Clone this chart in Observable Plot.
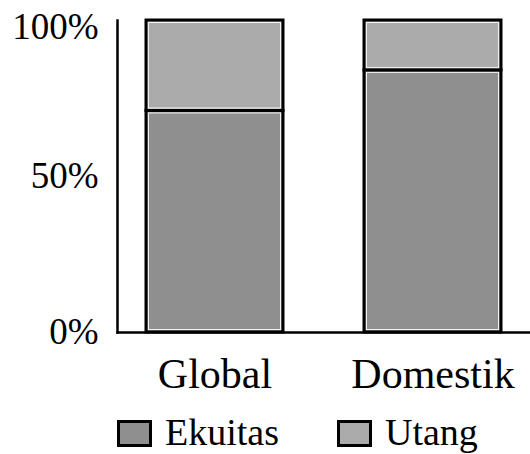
<!DOCTYPE html>
<html><head><meta charset="utf-8">
<script src="https://cdn.jsdelivr.net/npm/d3@7"></script>
<script src="https://cdn.jsdelivr.net/npm/@observablehq/plot@0.6"></script>
<style>
body{margin:0;background:#fff;font-family:"Liberation Serif",serif;}
#legend{position:relative;width:530px;height:54px;}
.item{position:absolute;top:0;height:54px;}
.sw{position:absolute;top:20px;width:35px;height:27px;box-sizing:border-box;border:3px solid #000;}
.lab{position:absolute;left:48px;top:12px;font-size:38px;line-height:40px;white-space:nowrap;color:#000;}
</style></head><body>
<div id="chart"></div>
<div id="legend"></div>
<script>
const categories = ["Global", "Domestik"];
const seriesNames = ["Ekuitas", "Utang"];
const ekuitas = [71, 84];
const utang = [29, 16];
const yTicks = [0, 50, 100];
const yTickLabels = ["0%", "50%", "100%"];
const colors = ["#8f8f8f", "#ababab"];
const legendLeft = [117, 337];

const data = categories.flatMap((c, i) => [
  {category: c, series: seriesNames[0], value: ekuitas[i]},
  {category: c, series: seriesNames[1], value: utang[i]}
]);
const fmt = d => yTickLabels[yTicks.indexOf(d)];

const plot = Plot.plot({
  width: 530, height: 400,
  marginLeft: 117, marginRight: 0, marginTop: 20, marginBottom: 68,
  style: {fontFamily: "Liberation Serif", fontSize: "36px", color: "#000", background: "#fff"},
  x: {domain: categories, paddingInner: 0.37, paddingOuter: 0.128, label: null},
  y: {domain: [0, 100], label: null},
  color: {domain: seriesNames, range: colors},
  marks: [
    Plot.barY(data, {x: "category", y: "value", fill: "series", stroke: "#000", strokeWidth: 3}),
    Plot.barY(data, {x: "category", y: "value", fill: "none", stroke: "#f2f2f2", strokeWidth: 1, inset: 2.5}),
    Plot.frame({anchor: "left", stroke: "#000", strokeWidth: 2.5}),
    Plot.frame({anchor: "bottom", stroke: "#000", strokeWidth: 2.5}),
    Plot.axisY(yTicks.filter(t => t < 100), {tickSize: 0, tickPadding: 19, tickFormat: fmt, fontSize: 37, label: null}),
    Plot.axisY(yTicks.filter(t => t === 100), {tickSize: 0, tickPadding: 19, tickFormat: fmt, fontSize: 37, dy: 7, label: null}),
    Plot.axisX({tickSize: 0, tickPadding: 26, fontSize: 42, label: null})
  ]
});
document.getElementById("chart").append(plot);

const legend = document.getElementById("legend");
seriesNames.forEach((s, i) => {
  const item = document.createElement("div");
  item.className = "item";
  item.style.left = legendLeft[i] + "px";
  const sw = document.createElement("div");
  sw.className = "sw";
  sw.style.background = colors[i];
  const lab = document.createElement("span");
  lab.className = "lab";
  lab.textContent = s;
  item.append(sw, lab);
  legend.append(item);
});
</script>
</body></html>
